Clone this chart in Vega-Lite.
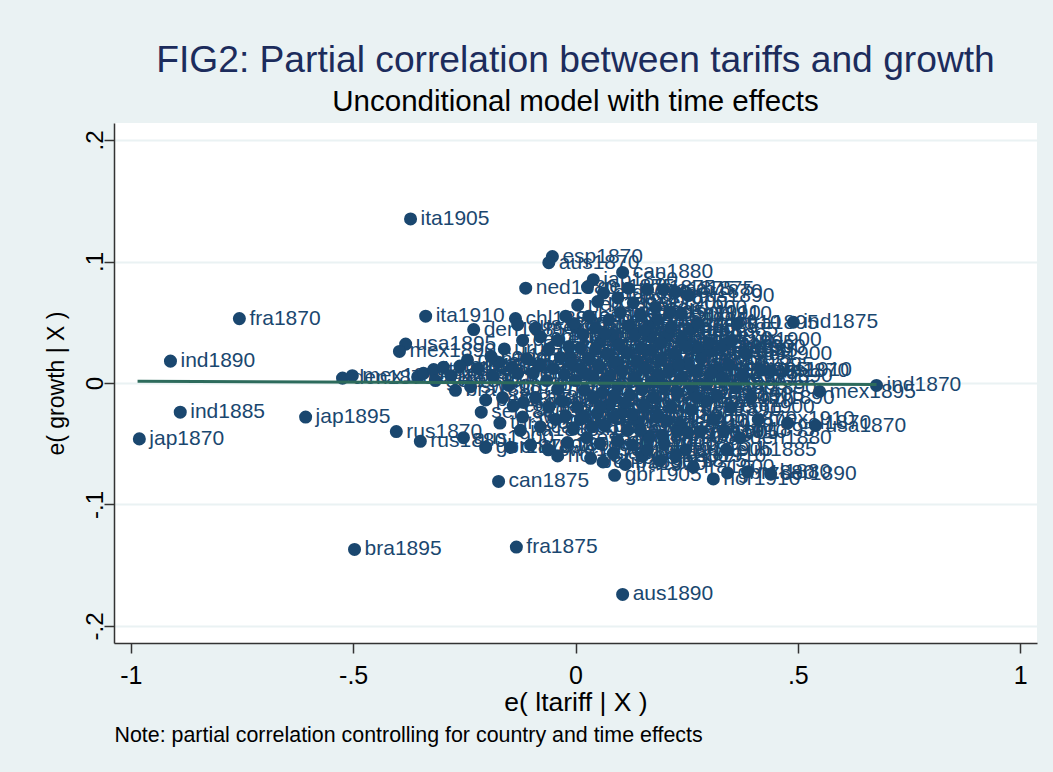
{
"$schema": "https://vega.github.io/schema/vega-lite/v6.json",
"autosize": {"type": "none"},
"padding": {"left": 114, "top": 123, "right": 16, "bottom": 129},
"width": 923,
"height": 520,
"background": "#EAF2F3",
"config": {"font": "Liberation Sans", "view": {"fill": "white", "stroke": null}},
"title": {"text": "FIG2: Partial correlation between tariffs and growth", "subtitle": "Unconditional model with time effects", "anchor": "middle", "frame": "group", "font": "Liberation Sans", "fontSize": 37.2, "fontWeight": "normal", "color": "#1c2c5c", "subtitleFont": "Liberation Sans", "subtitleFontSize": 29.5, "subtitleColor": "#000000", "subtitlePadding": 7, "offset": 6},
"datasets": {
"pts": [
{"x": -0.371, "y": 0.135, "lab": "ita1905"},
{"x": -0.052, "y": 0.104, "lab": "esp1870"},
{"x": -0.060, "y": 0.099, "lab": "aus1870"},
{"x": 0.106, "y": 0.091, "lab": "can1880"},
{"x": 0.040, "y": 0.085, "lab": "jap1880"},
{"x": -0.112, "y": 0.078, "lab": "ned1880"},
{"x": 0.063, "y": 0.074, "lab": "arg1880"},
{"x": 0.254, "y": 0.072, "lab": "rus1890"},
{"x": 0.027, "y": 0.079, "lab": "ger1875"},
{"x": 0.119, "y": 0.078, "lab": "por1875"},
{"x": 0.162, "y": 0.077, "lab": "bra1875"},
{"x": 0.198, "y": 0.077, "lab": "usa1875"},
{"x": 0.225, "y": 0.075, "lab": "nor1870"},
{"x": -0.756, "y": 0.053, "lab": "fra1870"},
{"x": -0.911, "y": 0.018, "lab": "ind1890"},
{"x": -0.889, "y": -0.024, "lab": "ind1885"},
{"x": -0.981, "y": -0.046, "lab": "jap1870"},
{"x": -0.607, "y": -0.028, "lab": "jap1895"},
{"x": -0.337, "y": 0.055, "lab": "ita1910"},
{"x": -0.382, "y": 0.032, "lab": "usa1895"},
{"x": -0.396, "y": 0.026, "lab": "mex1890"},
{"x": -0.229, "y": 0.044, "lab": "den1885"},
{"x": -0.135, "y": 0.053, "lab": "chl1885"},
{"x": -0.130, "y": 0.048, "lab": "aus1885"},
{"x": -0.403, "y": -0.040, "lab": "rus1870"},
{"x": -0.349, "y": -0.048, "lab": "rus1880"},
{"x": -0.173, "y": -0.081, "lab": "can1875"},
{"x": 0.088, "y": -0.076, "lab": "gbr1905"},
{"x": -0.497, "y": -0.137, "lab": "bra1895"},
{"x": -0.133, "y": -0.135, "lab": "fra1875"},
{"x": 0.106, "y": -0.174, "lab": "aus1890"},
{"x": 0.677, "y": -0.002, "lab": "ind1870"},
{"x": 0.549, "y": -0.007, "lab": "mex1895"},
{"x": 0.540, "y": -0.035, "lab": "usa1870"},
{"x": 0.411, "y": -0.030, "lab": "mex1910"},
{"x": 0.477, "y": -0.033, "lab": "col1870"},
{"x": 0.490, "y": 0.050, "lab": "ind1875"},
{"x": 0.364, "y": 0.049, "lab": "fra1895"},
{"x": 0.384, "y": 0.024, "lab": "rus1900"},
{"x": 0.290, "y": 0.027, "lab": "per1890"},
{"x": 0.319, "y": 0.011, "lab": "esp1905"},
{"x": 0.418, "y": 0.011, "lab": "aus1910"},
{"x": 0.438, "y": 0.010, "lab": "ita1870"},
{"x": 0.335, "y": -0.039, "lab": "can1895"},
{"x": 0.439, "y": -0.075, "lab": "ser1890"},
{"x": 0.387, "y": -0.073, "lab": "nzl1880"},
{"x": 0.310, "y": -0.079, "lab": "nor1910"},
{"x": 0.265, "y": -0.069, "lab": "fra1900"},
{"x": 0.342, "y": -0.074, "lab": "gbr1880"},
{"x": -0.524, "y": 0.004, "lab": "den1870"},
{"x": -0.502, "y": 0.006, "lab": "mex1875"},
{"x": 0.101, "y": 0.058, "lab": "ind1905"},
{"x": 0.146, "y": 0.056, "lab": "aus1905"},
{"x": 0.184, "y": 0.052, "lab": "usa1905"},
{"x": -0.355, "y": 0.005, "lab": "ned1875"},
{"x": -0.342, "y": 0.008, "lab": "mex1880"},
{"x": -0.319, "y": 0.011, "lab": "ita1875"},
{"x": -0.297, "y": 0.013, "lab": "por1870"},
{"x": -0.243, "y": 0.019, "lab": "den1890"},
{"x": -0.220, "y": 0.012, "lab": "bra1870"},
{"x": -0.173, "y": 0.017, "lab": "esp1875"},
{"x": -0.142, "y": 0.013, "lab": "chl1875"},
{"x": -0.270, "y": -0.006, "lab": "bra1880"},
{"x": -0.236, "y": -0.003, "lab": "swe1870"},
{"x": -0.202, "y": -0.014, "lab": "per1875"},
{"x": -0.164, "y": -0.012, "lab": "uru1880"},
{"x": -0.117, "y": -0.016, "lab": "swe1885"},
{"x": -0.119, "y": -0.028, "lab": "swe1875"},
{"x": -0.124, "y": -0.039, "lab": "ita1880"},
{"x": -0.079, "y": -0.036, "lab": "can1885"},
{"x": -0.252, "y": -0.045, "lab": "aus1900"},
{"x": -0.202, "y": -0.053, "lab": "gbr1870"},
{"x": -0.146, "y": -0.053, "lab": "chl1890"},
{"x": -0.101, "y": -0.051, "lab": "aus1895"},
{"x": -0.061, "y": -0.055, "lab": "swe1890"},
{"x": -0.018, "y": -0.049, "lab": "nor1890"},
{"x": 0.034, "y": -0.062, "lab": "ger1900"},
{"x": 0.112, "y": -0.067, "lab": "fra1910"},
{"x": 0.011, "y": -0.030, "lab": "ned1890"},
{"x": 0.049, "y": -0.025, "lab": "gre1885"},
{"x": 0.117, "y": -0.039, "lab": "ita1885"},
{"x": 0.128, "y": -0.051, "lab": "ind1900"},
{"x": -0.315, "y": 0.002, "lab": "ger1870"},
{"x": -0.280, "y": 0.006, "lab": "jap1875"},
{"x": -0.260, "y": 0.014, "lab": "arg1870"},
{"x": -0.190, "y": 0.022, "lab": "col1875"},
{"x": -0.160, "y": 0.028, "lab": "uru1875"},
{"x": -0.185, "y": 0.005, "lab": "nzl1875"},
{"x": -0.150, "y": -0.002, "lab": "gre1875"},
{"x": -0.130, "y": 0.008, "lab": "per1880"},
{"x": -0.212, "y": -0.024, "lab": "ser1880"},
{"x": -0.170, "y": -0.033, "lab": "tur1880"},
{"x": -0.140, "y": -0.019, "lab": "egy1880"},
{"x": -0.119, "y": 0.035, "lab": "can1890"},
{"x": -0.079, "y": 0.038, "lab": "chn1880"},
{"x": -0.040, "y": 0.035, "lab": "esp1880"},
{"x": 0.000, "y": 0.046, "lab": "jap1905"},
{"x": 0.011, "y": 0.029, "lab": "arg1885"},
{"x": -0.034, "y": 0.021, "lab": "swe1880"},
{"x": -0.011, "y": 0.021, "lab": "ned1885"},
{"x": -0.004, "y": 0.049, "lab": "aus1880"},
{"x": 0.056, "y": 0.034, "lab": "den1895"},
{"x": 0.169, "y": 0.038, "lab": "usa1880"},
{"x": 0.207, "y": 0.039, "lab": "gbr1890"},
{"x": 0.274, "y": 0.029, "lab": "per1885"},
{"x": 0.304, "y": 0.026, "lab": "ger1885"},
{"x": 0.085, "y": 0.039, "lab": "ita1900"},
{"x": 0.030, "y": 0.055, "lab": "esp1885"},
{"x": 0.045, "y": 0.045, "lab": "fra1880"},
{"x": 0.075, "y": 0.052, "lab": "ger1880"},
{"x": 0.120, "y": 0.047, "lab": "col1885"},
{"x": 0.135, "y": 0.040, "lab": "swe1895"},
{"x": 0.165, "y": 0.046, "lab": "arg1890"},
{"x": 0.215, "y": 0.046, "lab": "bra1885"},
{"x": 0.240, "y": 0.036, "lab": "can1870"},
{"x": 0.260, "y": 0.044, "lab": "nor1885"},
{"x": 0.330, "y": 0.030, "lab": "chl1900"},
{"x": -0.090, "y": 0.045, "lab": "mex1885"},
{"x": -0.060, "y": 0.028, "lab": "uru1885"},
{"x": 0.005, "y": 0.064, "lab": "ned1895"},
{"x": 0.050, "y": 0.067, "lab": "por1880"},
{"x": 0.130, "y": 0.066, "lab": "swe1900"},
{"x": 0.095, "y": 0.070, "lab": "jap1890"},
{"x": 0.180, "y": 0.062, "lab": "den1900"},
{"x": -0.110, "y": 0.020, "lab": "col1880"},
{"x": -0.095, "y": 0.008, "lab": "ita1890"},
{"x": -0.080, "y": 0.015, "lab": "esp1890"},
{"x": -0.065, "y": 0.002, "lab": "gre1890"},
{"x": -0.050, "y": 0.012, "lab": "por1885"},
{"x": -0.040, "y": -0.005, "lab": "nzl1885"},
{"x": -0.025, "y": 0.007, "lab": "tur1885"},
{"x": -0.010, "y": 0.016, "lab": "egy1885"},
{"x": 0.000, "y": 0.002, "lab": "ser1885"},
{"x": 0.012, "y": 0.012, "lab": "mex1900"},
{"x": 0.020, "y": -0.006, "lab": "uru1890"},
{"x": 0.030, "y": 0.020, "lab": "chl1880"},
{"x": 0.040, "y": 0.004, "lab": "arg1895"},
{"x": 0.052, "y": 0.014, "lab": "bra1890"},
{"x": 0.060, "y": -0.008, "lab": "can1900"},
{"x": 0.070, "y": 0.024, "lab": "ger1895"},
{"x": 0.078, "y": 0.006, "lab": "den1875"},
{"x": 0.088, "y": 0.017, "lab": "fra1885"},
{"x": 0.095, "y": -0.003, "lab": "gbr1885"},
{"x": 0.105, "y": 0.010, "lab": "ind1880"},
{"x": 0.115, "y": 0.025, "lab": "ita1895"},
{"x": 0.122, "y": -0.010, "lab": "jap1910"},
{"x": 0.132, "y": 0.004, "lab": "mex1905"},
{"x": 0.140, "y": 0.018, "lab": "ned1900"},
{"x": 0.150, "y": -0.005, "lab": "nor1895"},
{"x": 0.158, "y": 0.012, "lab": "per1895"},
{"x": 0.168, "y": 0.027, "lab": "por1890"},
{"x": 0.175, "y": -0.012, "lab": "rus1885"},
{"x": 0.185, "y": 0.006, "lab": "swe1905"},
{"x": 0.193, "y": 0.019, "lab": "uru1895"},
{"x": 0.200, "y": -0.002, "lab": "usa1885"},
{"x": 0.212, "y": 0.011, "lab": "arg1900"},
{"x": 0.222, "y": 0.024, "lab": "aus1875"},
{"x": 0.230, "y": -0.008, "lab": "bra1900"},
{"x": 0.240, "y": 0.005, "lab": "can1905"},
{"x": 0.250, "y": 0.016, "lab": "chl1895"},
{"x": 0.262, "y": -0.004, "lab": "col1890"},
{"x": 0.272, "y": 0.010, "lab": "den1905"},
{"x": 0.283, "y": 0.020, "lab": "esp1895"},
{"x": 0.295, "y": -0.001, "lab": "fra1905"},
{"x": 0.305, "y": 0.008, "lab": "gbr1895"},
{"x": 0.318, "y": -0.010, "lab": "ger1905"},
{"x": 0.330, "y": 0.004, "lab": "gre1895"},
{"x": 0.345, "y": 0.015, "lab": "ind1895"},
{"x": 0.360, "y": -0.004, "lab": "tur1890"},
{"x": 0.375, "y": 0.006, "lab": "egy1890"},
{"x": 0.395, "y": -0.012, "lab": "nzl1890"},
{"x": 0.300, "y": 0.033, "lab": "ser1895"},
{"x": 0.250, "y": 0.030, "lab": "per1900"},
{"x": 0.045, "y": 0.028, "lab": "uru1900"},
{"x": -0.015, "y": 0.030, "lab": "chl1905"},
{"x": -0.090, "y": -0.012, "lab": "arg1905"},
{"x": -0.060, "y": -0.020, "lab": "bra1905"},
{"x": -0.045, "y": -0.030, "lab": "can1910"},
{"x": -0.030, "y": -0.015, "lab": "chl1910"},
{"x": -0.005, "y": -0.038, "lab": "col1895"},
{"x": 0.005, "y": -0.020, "lab": "den1910"},
{"x": 0.025, "y": -0.045, "lab": "esp1900"},
{"x": 0.040, "y": -0.012, "lab": "fra1890"},
{"x": 0.065, "y": -0.035, "lab": "gbr1900"},
{"x": 0.075, "y": -0.018, "lab": "ger1910"},
{"x": 0.095, "y": -0.048, "lab": "gre1900"},
{"x": 0.105, "y": -0.025, "lab": "ind1910"},
{"x": 0.140, "y": -0.032, "lab": "mex1870"},
{"x": 0.155, "y": -0.018, "lab": "ned1905"},
{"x": 0.165, "y": -0.045, "lab": "nor1900"},
{"x": 0.185, "y": -0.028, "lab": "per1905"},
{"x": 0.200, "y": -0.050, "lab": "por1895"},
{"x": 0.215, "y": -0.020, "lab": "rus1895"},
{"x": 0.235, "y": -0.035, "lab": "swe1910"},
{"x": 0.248, "y": -0.055, "lab": "uru1905"},
{"x": 0.260, "y": -0.022, "lab": "usa1890"},
{"x": 0.280, "y": -0.040, "lab": "arg1910"},
{"x": 0.295, "y": -0.015, "lab": "bra1910"},
{"x": 0.310, "y": -0.030, "lab": "chl1870"},
{"x": 0.350, "y": -0.020, "lab": "col1900"},
{"x": 0.370, "y": -0.045, "lab": "den1880"},
{"x": 0.225, "y": -0.060, "lab": "esp1910"},
{"x": 0.190, "y": -0.064, "lab": "gbr1875"},
{"x": 0.150, "y": -0.060, "lab": "gre1880"},
{"x": 0.085, "y": -0.058, "lab": "jap1900"},
{"x": 0.055, "y": -0.050, "lab": "ned1910"},
{"x": -0.040, "y": -0.060, "lab": "nor1875"},
{"x": 0.229, "y": -0.040, "lab": "per1910"},
{"x": 0.146, "y": -0.039, "lab": "por1900"},
{"x": 0.018, "y": -0.028, "lab": "rus1905"},
{"x": 0.085, "y": -0.028, "lab": "ser1900"},
{"x": 0.056, "y": -0.020, "lab": "tur1895"},
{"x": 0.162, "y": -0.055, "lab": "uru1910"},
{"x": 0.017, "y": 0.040, "lab": "gre1905"},
{"x": 0.066, "y": 0.041, "lab": "tur1900"},
{"x": 0.098, "y": 0.031, "lab": "egy1895"},
{"x": 0.148, "y": 0.029, "lab": "nzl1895"},
{"x": 0.191, "y": 0.033, "lab": "ser1905"},
{"x": 0.232, "y": 0.015, "lab": "gre1910"},
{"x": 0.021, "y": 0.008, "lab": "tur1905"},
{"x": 0.067, "y": 0.001, "lab": "egy1900"},
{"x": 0.112, "y": -0.016, "lab": "nzl1900"},
{"x": 0.171, "y": 0.001, "lab": "ser1910"},
{"x": 0.206, "y": -0.031, "lab": "tur1910"},
{"x": 0.253, "y": -0.041, "lab": "egy1905"},
{"x": 0.272, "y": -0.012, "lab": "nzl1905"},
{"x": 0.128, "y": -0.026, "lab": "chn1885"},
{"x": 0.037, "y": -0.036, "lab": "chn1890"},
{"x": -0.022, "y": -0.027, "lab": "chn1895"},
{"x": 0.195, "y": -0.043, "lab": "chn1900"},
{"x": 0.087, "y": -0.010, "lab": "chn1905"},
{"x": 0.213, "y": 0.058, "lab": "chn1910"},
{"x": 0.238, "y": 0.057, "lab": "egy1910"},
{"x": 0.275, "y": 0.049, "lab": "nzl1910"},
{"x": 0.155, "y": 0.043, "lab": "cub1880"},
{"x": 0.339, "y": -0.055, "lab": "cub1885"},
{"x": 0.062, "y": -0.065, "lab": "cub1890"},
{"x": -0.022, "y": 0.055, "lab": "cub1895"},
{"x": 0.350, "y": 0.035, "lab": "cub1900"}
],
"fit": [
{"x": -0.985, "y": 0.0015},
{"x": 0.677, "y": -0.0012}
]
},
"layer": [
{
"data": {"name": "pts"},
"mark": {"type": "circle", "size": 170, "opacity": 1, "color": "#1a476f"},
"encoding": {
"x": {"field": "x", "type": "quantitative", "scale": {"domain": [-1.038, 1.038], "nice": false, "zero": false},
"axis": {"title": "e( ltariff | X )", "values": [-1, -0.5, 0, 0.5, 1], "labelExpr": "replace('' + datum.value, '0.', '.')", "labelFontSize": 25, "labelColor": "#000000", "labelPadding": 10, "labelFlush": false, "tickSize": 10, "tickColor": "#333333", "tickWidth": 1.5, "domainColor": "#333333", "domainWidth": 1.5, "grid": false, "titleFontSize": 26.5, "titleFontWeight": "normal", "titleColor": "#000000", "titlePadding": 1}},
"y": {"field": "y", "type": "quantitative", "scale": {"domain": [-0.214, 0.214], "nice": false, "zero": false},
"axis": {"title": "e( growth | X )", "values": [-0.2, -0.1, 0, 0.1, 0.2], "labelExpr": "replace('' + datum.value, '0.', '.')", "labelAngle": -90, "labelAlign": "center", "labelBaseline": "bottom", "labelFontSize": 24, "labelColor": "#000000", "labelPadding": -3, "labelFlush": false, "tickSize": 10, "tickColor": "#333333", "tickWidth": 1.5, "domainColor": "#333333", "domainWidth": 1.5, "grid": true, "gridColor": "#EAF2F3", "gridWidth": 2, "titleFontSize": 23, "titleFontWeight": "normal", "titleColor": "#000000", "titlePadding": 15}}
}
},
{
"data": {"name": "pts"},
"mark": {"type": "text", "align": "left", "baseline": "middle", "dx": 10, "fontSize": 21, "color": "#1a476f"},
"encoding": {
"x": {"field": "x", "type": "quantitative", "scale": {"domain": [-1.038, 1.038], "nice": false, "zero": false}, "axis": null},
"y": {"field": "y", "type": "quantitative", "scale": {"domain": [-0.214, 0.214], "nice": false, "zero": false}},
"text": {"field": "lab"}
}
},
{
"data": {"name": "fit"},
"mark": {"type": "line", "color": "#2d6b5c", "strokeWidth": 3},
"encoding": {
"x": {"field": "x", "type": "quantitative", "scale": {"domain": [-1.038, 1.038], "nice": false, "zero": false},
"axis": {"orient": "bottom", "title": "Note: partial correlation controlling for country and time effects", "labels": false, "ticks": false, "domain": false, "grid": false, "titleAnchor": "start", "titleAlign": "left", "titleFontSize": 21.4, "titleFontWeight": "normal", "titleColor": "#000000", "titlePadding": 81}},
"y": {"field": "y", "type": "quantitative", "scale": {"domain": [-0.214, 0.214], "nice": false, "zero": false}}
}
}
],
"resolve": {"axis": {"x": "independent"}}
}
